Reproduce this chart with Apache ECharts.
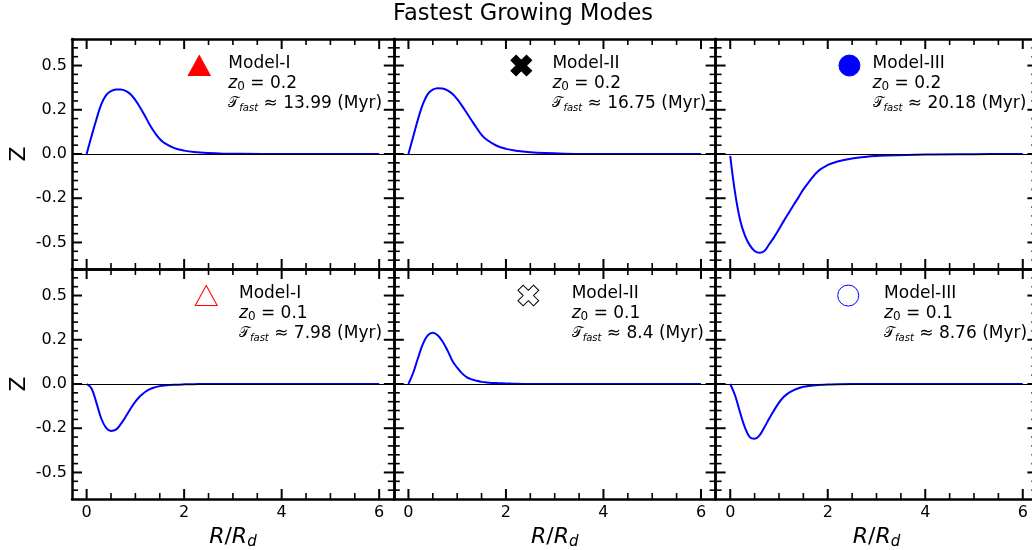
<!DOCTYPE html>
<html><head><meta charset="utf-8">
<script src="https://cdn.jsdelivr.net/npm/echarts@6/dist/echarts.min.js"></script>
<style>html,body{margin:0;padding:0;background:#fff}#c{width:1032px;height:550px}</style>
</head><body><div id="c"></div>
<script>
// ---------------- data ----------------
const chartTitle = 'Fastest Growing Modes';
const rValues = [0,0.1,0.2,0.3,0.4,0.5,0.6,0.7,0.8,0.9,1.0,1.1,1.2,1.3,1.4,1.5,1.6,1.8,2.0,2.2,2.5,2.8,3.2,4,5,6];
const zModelI_z02   = [0,0.1,0.195,0.28,0.333,0.355,0.364,0.365,0.357,0.338,0.305,0.262,0.213,0.163,0.12,0.085,0.061,0.033,0.019,0.011,0.005,0.002,0.001,0,0,0];
const zModelII_z02  = [0,0.1,0.2,0.285,0.34,0.364,0.372,0.37,0.36,0.34,0.31,0.272,0.23,0.188,0.147,0.108,0.082,0.048,0.029,0.019,0.01,0.005,0.002,0,0,0];
const zModelIII_z02 = [-0.01,-0.22,-0.37,-0.46,-0.515,-0.548,-0.558,-0.548,-0.51,-0.47,-0.425,-0.378,-0.333,-0.288,-0.245,-0.2,-0.163,-0.097,-0.062,-0.042,-0.025,-0.015,-0.009,-0.003,-0.001,0];
const zModelI_z01   = [0,-0.025,-0.105,-0.195,-0.248,-0.265,-0.258,-0.227,-0.185,-0.14,-0.1,-0.068,-0.045,-0.029,-0.019,-0.012,-0.008,-0.004,-0.002,-0.001,0,0,0,0,0,0];
const zModelII_z01  = [0,0.065,0.15,0.228,0.276,0.29,0.275,0.24,0.19,0.132,0.092,0.06,0.038,0.026,0.018,0.012,0.009,0.005,0.003,0.001,0,0,0,0,0,0];
const zModelIII_z01 = [0,-0.065,-0.16,-0.245,-0.3,-0.31,-0.29,-0.245,-0.195,-0.148,-0.105,-0.072,-0.05,-0.035,-0.024,-0.016,-0.011,-0.005,-0.003,-0.001,0,0,0,0,0,0];
const panelSeries = [zModelI_z02, zModelII_z02, zModelIII_z02, zModelI_z01, zModelII_z01, zModelIII_z01];
const modelNames  = ['Model-I','Model-II','Model-III','Model-I','Model-II','Model-III'];
const z0Values    = ['0.2','0.2','0.2','0.1','0.1','0.1'];
const tFastValues = ['13.99','16.75','20.18','7.98','8.4','8.76'];
const xTickValues = [0,2,4,6];
const xTickLabels = ['0','2','4','6'];
const yTickValues = [-0.5,-0.25,0,0.25,0.5];
const yTickLabels = ['-0.5','-0.2','0.0','0.2','0.5'];

// ---------------- layout / style ----------------
const FONT = 'DejaVu Sans';
const X_MIN = -0.3, X_MAX = 6.3, Y_MIN = -0.65, Y_MAX = 0.65;
const colLeft = [72, 393.8, 715.6], PW = 321.8;
const rowTop = [39, 269], PH = 230;
const xMinorTicks = []; for (let k = 1; k <= 12; k++) if (k % 4) xMinorTicks.push(k * 0.5);
const yMinorTicks = []; for (let k = -12; k <= 12; k++) if (k % 5) yMinorTicks.push(Math.round(k * 5) / 100);
const markerPos = [[2.31,0.5],[2.315,0.5],[2.445,0.5],[2.453,0.5],[2.459,0.5],[2.42,0.5]];
const textPos   = [[2.906,0.4],[2.953,0.4],[2.92,0.4],[3.125,0.4],[3.348,0.4],[3.155,0.4]];
const X_PATH = 'path://M1,0 L2,0 L2,1 L3,1 L3,2 L2,2 L2,3 L1,3 L1,2 L0,2 L0,1 L1,1 Z';
const markerStyles = [
  {symbol:'triangle', size:[22,20], rotate:0,  fill:'#ff0000', border:'#ff0000'},
  {symbol:X_PATH,     size:22,      rotate:45, fill:'#000000', border:'#000000'},
  {symbol:'circle',   size:21,      rotate:0,  fill:'#0000ff', border:'#0000ff'},
  {symbol:'triangle', size:[22,20], rotate:0,  fill:'#ffffff', border:'#ff0000'},
  {symbol:X_PATH,     size:22,      rotate:45, fill:'#ffffff', border:'#000000'},
  {symbol:'circle',   size:21,      rotate:0,  fill:'#ffffff', border:'#0000ff'}
];
const TICK_LEN = [10, 6], TICK_W = [2, 1.6];
function lookup(vals, labels, v) {
  for (let k = 0; k < vals.length; k++) if (Math.abs(vals[k] - v) < 1e-6) return labels[k];
  return '';
}
const spine = () => ({show:true, onZero:false, lineStyle:{color:'#000', width:2.5}});
const hid = () => ({show:false});
const labelStyle = () => ({fontSize:16, color:'#000', fontFamily:FONT});
const txt = extra => Object.assign({fontFamily:FONT, color:'#000', textBorderWidth:0, textShadowBlur:0}, extra);

// tick marks drawn inward on all four sides, positioned by the axes' own scales
function renderTicks(params, api) {
  const kind = api.value(2);
  const p = api.coord([api.value(0), api.value(1)]);
  const cs = params.coordSys;
  const len = TICK_LEN[kind % 2], w = TICK_W[kind % 2];
  const st = {stroke:'#000', lineWidth:w};
  let a, b;
  if (kind < 2) {
    const yb = cs.y + cs.height, yt = cs.y;
    a = {x1:p[0], y1:yb, x2:p[0], y2:yb - len};
    b = {x1:p[0], y1:yt, x2:p[0], y2:yt + len};
  } else {
    const xl = cs.x, xr = cs.x + cs.width;
    a = {x1:xl, y1:p[1], x2:xl + len, y2:p[1]};
    b = {x1:xr, y1:p[1], x2:xr - len, y2:p[1]};
  }
  return {type:'group', children:[{type:'line', shape:a, style:st}, {type:'line', shape:b, style:st}]};
}
const tickData = []
  .concat(xTickValues.map(v => [v, Y_MIN, 0]))
  .concat(xMinorTicks.map(v => [v, Y_MIN, 1]))
  .concat(yTickValues.map(v => [X_MIN, v, 2]))
  .concat(yMinorTicks.map(v => [X_MIN, v, 3]));

const grids = [], xAxes = [], yAxes = [], series = [];
for (let i = 0; i < 6; i++) {
  const row = Math.floor(i / 3), col = i % 3;
  grids.push({left: colLeft[col], top: rowTop[row], width: PW, height: PH, containLabel:false, outerBoundsMode:'none'});
  const xi = xAxes.length, yi = yAxes.length;
  xAxes.push({gridIndex:i, type:'value', min:X_MIN, max:X_MAX, position:'bottom', splitLine:hid(),
    axisLine:spine(), axisTick:hid(),
    axisLabel:Object.assign({show: row === 1, customValues:xTickValues, formatter: v => lookup(xTickValues, xTickLabels, v), margin:6}, labelStyle()),
    name: row === 1 ? '{i|R}{n|/}{i|R}{s|d}' : '', nameLocation:'middle', nameGap:25,
    nameTextStyle:{fontSize:22, fontFamily:FONT, color:'#000', rich:{
      i:{fontSize:22, fontStyle:'italic', fontFamily:FONT, lineHeight:26, color:'#000'},
      n:{fontSize:22, fontFamily:FONT, lineHeight:26, color:'#000'},
      s:{fontSize:15, fontStyle:'italic', fontFamily:FONT, lineHeight:12, verticalAlign:'bottom', color:'#000'}}}});
  xAxes.push({gridIndex:i, type:'value', min:X_MIN, max:X_MAX, position:'top', splitLine:hid(), axisLine:spine(), axisTick:hid(), axisLabel:hid()});
  yAxes.push({gridIndex:i, type:'value', min:Y_MIN, max:Y_MAX, position:'left', splitLine:hid(),
    axisLine:spine(), axisTick:hid(),
    axisLabel:Object.assign({show: col === 0, customValues:yTickValues, formatter: v => lookup(yTickValues, yTickLabels, v), margin:5}, labelStyle()),
    name: col === 0 ? 'Z' : '', nameLocation:'middle', nameRotate:90, nameGap:42,
    nameTextStyle:{fontSize:22, fontFamily:FONT, color:'#000'}});
  yAxes.push({gridIndex:i, type:'value', min:Y_MIN, max:Y_MAX, position:'right', splitLine:hid(), axisLine:spine(), axisTick:hid(), axisLabel:hid()});

  series.push({
    type:'custom', xAxisIndex:xi, yAxisIndex:yi, silent:true, z:6, clip:false,
    renderItem: renderTicks, data: tickData
  });
  series.push({
    type:'line', xAxisIndex:xi, yAxisIndex:yi, z:3,
    data: rValues.map((r, k) => [r, panelSeries[i][k]]),
    smooth:0.4, showSymbol:false, silent:true,
    lineStyle:{color:'#0000ff', width:2},
    markLine:{silent:true, symbol:['none','none'], label:{show:false},
      lineStyle:{color:'#000', width:1.2, type:'solid'}, data:[{yAxis:0}]}
  });
  const ms = markerStyles[i];
  series.push({
    type:'scatter', xAxisIndex:xi, yAxisIndex:yi, z:4, silent:true,
    symbol:ms.symbol, symbolSize:ms.size, symbolRotate:ms.rotate,
    itemStyle:{color:ms.fill, borderColor:ms.border, borderWidth:1, opacity:1},
    data:[markerPos[i]]
  });
  series.push({
    type:'scatter', xAxisIndex:xi, yAxisIndex:yi, z:4, silent:true,
    symbol:'circle', symbolSize:0, itemStyle:{color:'#000', opacity:1},
    data:[textPos[i]],
    label:txt({show:true, position:'right', distance:0, fontSize:17, lineHeight:20, opacity:1,
      formatter: () => '{n|' + modelNames[i] + '}\n{it|z}{sub|0}{n| = ' + z0Values[i] + '}\n{cal|\uD835\uDCAF}{subit|fast}{n| \u2248 ' + tFastValues[i] + ' (Myr)}',
      rich:{
        n:txt({fontSize:17, lineHeight:20}),
        it:txt({fontSize:17, lineHeight:20, fontStyle:'italic'}),
        cal:txt({fontSize:14, lineHeight:20}),
        sub:txt({fontSize:12, lineHeight:10, verticalAlign:'bottom'}),
        subit:txt({fontSize:10, lineHeight:10, verticalAlign:'bottom', fontStyle:'italic'})
      }})
  });
}

const chart = echarts.init(document.getElementById('c'), null, {renderer:'canvas'});
chart.setOption({
  animation:false,
  backgroundColor:'#fff',
  title:{text:chartTitle, left:393, top:3, padding:0, textStyle:{fontSize:22.5, fontWeight:'normal', fontFamily:FONT, color:'#000'}},
  grid:grids, xAxis:xAxes, yAxis:yAxes, series:series
});
</script></body></html>
